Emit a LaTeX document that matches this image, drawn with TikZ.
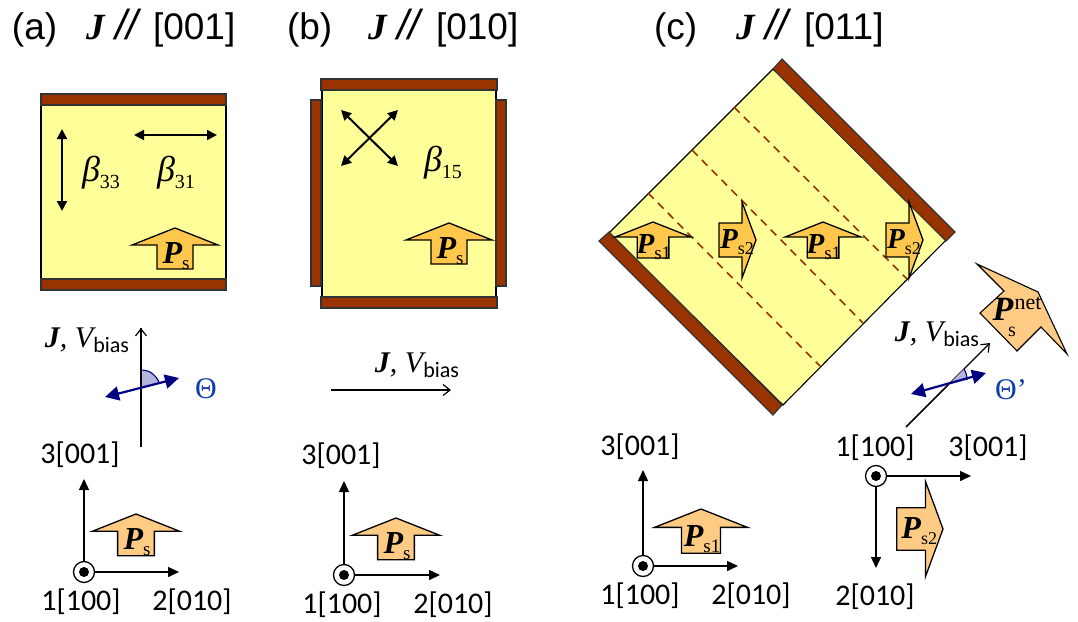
\documentclass[tikz,border=0pt]{standalone}
\usepackage{fontspec}
\setmainfont{Liberation Serif}
\newfontfamily\carl{Carlito}
\newfontfamily\arl{Liberation Sans}
\usetikzlibrary{arrows.meta}
\definecolor{bar}{HTML}{993300}
\definecolor{film}{HTML}{FFFF99}
\definecolor{psin}{HTML}{FFC84D}
\definecolor{psout}{HTML}{FDCB84}
\definecolor{bluea}{HTML}{000080}
\definecolor{bluet}{HTML}{0F3FA8}
\definecolor{wedge}{HTML}{B4B4DC}
\newcommand\fs[1]{\fontsize{#1}{#1}\selectfont}
\newcommand\Pb{\bfseries\itshape P}
\newcommand\PsLab[3]{{\fs{#1}\Pb}\raisebox{-6pt}{\fs{#2}\normalfont #3}}
\newcommand\JV{{\fs{30}\bfseries\itshape J}{\fs{30}\itshape,\ V}\raisebox{-5pt}{\carl\fs{22}bias}}
\newcommand\Bt[2]{{\fs{36}\itshape β}\raisebox{-7pt}{\fs{20}#1}}
\newcommand\Ttl[2]{{\arl\fs{37}#1}}
\newcommand\Slash{{\arl\itshape\fs{42}//}}
% up arrow: name, apex x, apex y, scale, fill, subscript, P size
\newcommand\PsUp[7]{%
 \begin{scope}[shift={(#2,#3)},scale=#4]
 \draw[psarrow,fill=#5] (0,0)--(43,17)--(18,17)--(18,41)--(-18,41)--(-18,17)--(-43,17)--cycle;
 \node[txt] (#1) at (1,28) {\PsLab{#7}{19}{#6}};
 \end{scope}}
\newcommand\PsRt[7]{%
 \begin{scope}[shift={(#2,#3)},scale=#4]
 \draw[psarrow,fill=#5] (0,0)--(-14,-38)--(-14,-17)--(-37,-17)--(-37,17)--(-14,17)--(-14,38)--cycle;
 \node[txt] (#1) at (-19,2) {\PsLab{#7}{18}{#6}};
 \end{scope}}
\tikzset{
 x=1pt,y=-1pt,
 txt/.style={inner sep=0pt,outer sep=0pt},
 axlab/.style={txt,font=\carl\fs{30}},
 film box/.style={draw=black,line width=1.1pt,fill=film},
 electrode/.style={draw=black!80,line width=1.1pt,fill=bar},
 psarrow/.style={draw=black,line width=1.3pt,line join=miter},
 dbl/.style={line width=2pt,{Triangle[length=10pt,width=10pt]}-{Triangle[length=10pt,width=10pt]}},
 thin arrow/.style={line width=1.2pt,-{Straight Barb[length=7pt,width=11pt,line width=1.2pt]}},
 axis/.style={line width=1.5pt,-{Triangle[length=11pt,width=10pt]}},
 blue arrow/.style={bluea,line width=2.2pt,{Triangle[length=14pt,width=14pt]}-{Triangle[length=14pt,width=14pt]}},
 origin/.style={circle,draw=black,line width=1.3pt,minimum size=21pt,inner sep=0pt,fill=white},
 dwall/.style={bar,line width=1.6pt,dash pattern=on 8pt off 6pt},
 angle fill/.style={fill=wedge,draw=none},
 angle arc/.style={draw=bluea,line width=1.1pt},
}
\begin{document}
\begin{tikzpicture}
\useasboundingbox (0,0) rectangle (1078,621);
\fill[white] (0,0) rectangle (1078,621);
% titles
\node[txt,anchor=base west] (ta) at (12,39) {\Ttl{(a)}{}};
\node[txt,anchor=base west] (tja) at (86,39) {{\fs{37}\bfseries\itshape J}};
\node[txt,anchor=base west] (tsa) at (115,39) {\Slash};
\node[txt,anchor=base west] (tba) at (153,39) {\Ttl{[001]}{}};
\node[txt,anchor=base west] (tb) at (287,39) {\Ttl{(b)}{}};
\node[txt,anchor=base west] (tjb) at (368,39) {{\fs{37}\bfseries\itshape J}};
\node[txt,anchor=base west] (tsb) at (397,39) {\Slash};
\node[txt,anchor=base west] (tbb) at (436,39) {\Ttl{[010]}{}};
\node[txt,anchor=base west] (tc) at (654,39) {\Ttl{(c)}{}};
\node[txt,anchor=base west] (tjc) at (736,39) {{\fs{37}\bfseries\itshape J}};
\node[txt,anchor=base west] (tsc) at (765,39) {\Slash};
\node[txt,anchor=base west] (tbc) at (804,39) {\Ttl{[011]}{}};
% panel a
\draw[film box] (41,94) rectangle (226,290);
\draw[electrode] (41,94) rectangle (226,105);
\draw[electrode] (41,279) rectangle (226,290);
\coordinate (a33t) at (62,129); \coordinate (a33b) at (62,211);
\coordinate (a31l) at (134,135); \coordinate (a31r) at (217,135);
\draw[dbl] (a33t) -- (a33b);
\draw[dbl] (a31l) -- (a31r);
\node[txt] (b33) at (101,173) {\Bt{33}{}};
\node[txt] (b31) at (176,173) {\Bt{31}{}};
\PsUp{psa}{175}{228}{1}{psin}{s}{32}
\coordinate (ja0) at (141,447); \coordinate (ja1) at (141,328);
\draw[thin arrow] (ja0) -- (ja1);
\node[txt,anchor=base east] (jva) at (129,347) {\JV};
\coordinate (ba0) at (105,397); \coordinate (ba1) at (179,378);
\coordinate (wa) at (141,387.5); \coordinate (wa1) at (141,370); \coordinate (wa2) at (159,382.5);
\fill[angle fill] (wa) -- (wa1) .. controls (150,370) and (156,375) .. (wa2) -- cycle;
\draw[angle arc] (wa1) .. controls (150,370) and (156,375) .. (wa2);
\draw[thin arrow,-] (ja0) -- (ja1);
\draw[blue arrow] (ba0) -- (ba1);
\node[txt] (tha) at (206,389) {\textcolor{bluet}{\fs{30}Θ}};
\node[origin] (oa) at (84,572) {};
\fill (oa) circle (5);
\coordinate (oau) at (84,479); \coordinate (oar) at (179,572);
\draw[axis] (oa) -- (oau);
\draw[axis] (oa) -- (oar);
\PsUp{psa2}{136}{514}{1.02}{psout}{s}{32}
\node[axlab] (la3) at (80,455) {3[001]};
\node[axlab] (la1) at (81,602) {1[100]};
\node[axlab] (la2) at (192,602) {2[010]};
% panel b
\draw[film box] (322,90) rectangle (496,297);
\draw[electrode] (321,79) rectangle (497,90);
\draw[electrode] (321,297) rectangle (497,308);
\draw[electrode] (311,100) rectangle (321,286);
\draw[electrode] (496,100) rectangle (506,286);
\coordinate (x1) at (341,110); \coordinate (x2) at (398,166);
\coordinate (x3) at (398,110); \coordinate (x4) at (341,166);
\draw[dbl] (x1) -- (x2);
\draw[dbl] (x3) -- (x4);
\node[txt] (b15) at (443,163) {\Bt{15}{}};
\PsUp{psb}{449}{223}{1}{psin}{s}{32}
\coordinate (jb0) at (331,390); \coordinate (jb1) at (451,390);
\draw[thin arrow] (jb0) -- (jb1);
\node[txt,anchor=base east] (jvb) at (459,372) {\JV};
\node[origin] (ob) at (344,575) {};
\fill (ob) circle (5);
\coordinate (obu) at (344,481); \coordinate (obr) at (440,575);
\draw[axis] (ob) -- (obu);
\draw[axis] (ob) -- (obr);
\PsUp{psb2}{396}{518}{1.02}{psout}{s}{32}
\node[axlab] (lb3) at (341,456) {3[001]};
\node[axlab] (lb1) at (342,605) {1[100]};
\node[axlab] (lb2) at (453,605) {2[010]};
% panel c
\draw[film box] (773,69) -- (946,240) -- (783,405) -- (609,233) -- cycle;
\coordinate (d1a) at (734,107); \coordinate (d1b) at (907,279);
\coordinate (d2a) at (692,150); \coordinate (d2b) at (863,323);
\coordinate (d3a) at (648,193); \coordinate (d3b) at (820,366);
\draw[dwall] (d1a) -- (d1b);
\draw[dwall] (d2a) -- (d2b);
\draw[dwall] (d3a) -- (d3b);
\draw[electrode] (782,59) -- (955,232) -- (946,241) -- (773,69) -- cycle;
\draw[electrode] (599,241) -- (609,232) -- (782,405) -- (773,415) -- cycle;
\PsUp{psc1}{653}{222}{0.88}{psin}{s1}{29}
\PsRt{psc2}{756}{240}{1}{psin}{s2}{29}
\PsUp{psc3}{823}{222}{0.88}{psin}{s1}{29}
\PsRt{psc4}{923}{240}{1}{psin}{s2}{29}
% net arrow
\draw[psarrow,line width=1.1pt,fill=psout] (977,264)--(1038,292)--(1067,354)--(1041,327)--(1017,351)--(980,313)--(1004,291)--cycle;
\node[txt] (pn) at (1003,309) {{\fs{34}\Pb}};
\node[txt] (pns) at (1012,332) {\fs{20}s};
\node[txt] (pnn) at (1028,303) {\fs{22}net};
\coordinate (jc0) at (906,427); \coordinate (jc1) at (990,343);
\draw[thin arrow] (jc0) -- (jc1);
\node[txt,anchor=base east] (jvc) at (979,341) {\JV};
\coordinate (bc0) at (911,394); \coordinate (bc1) at (986,373);
\coordinate (wc) at (948,385); \coordinate (wc1) at (964,369); \coordinate (wc2) at (967,380);
\fill[angle fill] (wc) -- (wc1) .. controls (966,372) and (967,376) .. (wc2) -- cycle;
\draw[angle arc] (wc1) .. controls (966,372) and (967,376) .. (wc2);
\draw[thin arrow,-] (jc0) -- (wc);
\draw[blue arrow] (bc0) -- (bc1);
\node[txt] (thc) at (1011,390) {\textcolor{bluet}{\fs{30}Θ’}};
\node[origin] (oc) at (643,566) {};
\fill (oc) circle (5);
\coordinate (ocu) at (643,470); \coordinate (ocr) at (738,566);
\draw[axis] (oc) -- (ocu);
\draw[axis] (oc) -- (ocr);
\PsUp{psc5}{701}{509}{1.08}{psout}{s1}{32}
\node[axlab] (lc3) at (640,447) {3[001]};
\node[axlab] (lc1) at (640,596) {1[100]};
\node[axlab] (lc2) at (751,596) {2[010]};
\node[origin] (od) at (876,476) {};
\fill (od) circle (5);
\coordinate (odr) at (971,476); \coordinate (odd) at (876,568);
\draw[axis] (od) -- (odr);
\draw[axis] (od) -- (odd);
\PsRt{psc6}{943}{529}{1.25}{psout}{s2}{32}
\node[axlab] (ld1) at (875,448) {1[100]};
\node[axlab] (ld3) at (988,448) {3[001]};
\node[axlab] (ld2) at (875,597) {2[010]};
\end{tikzpicture}
\end{document}
